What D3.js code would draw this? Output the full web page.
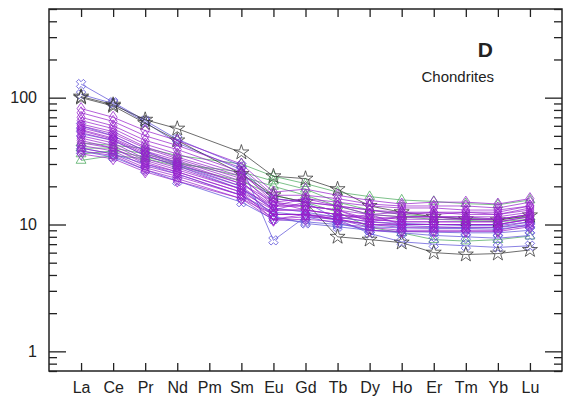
<!DOCTYPE html>
<html>
<head>
<meta charset="utf-8">
<script src="https://cdn.jsdelivr.net/npm/d3@7"></script>
<style>
  body { margin: 0; background: #fff; }
  svg { display: block; }
  text { font-family: "Liberation Sans", Arial, sans-serif; fill: #222; }
</style>
</head>
<body>
<svg id="chart" width="577" height="398"></svg>
<script>
// REE elements (Pm has no data)
const elements = ["La", "Ce", "Pr", "Nd", "Pm", "Sm", "Eu", "Gd", "Tb", "Dy", "Ho", "Er", "Tm", "Yb", "Lu"];
const yMajorTicks = [1, 10, 100];
const yMinorTicks = [0.7, 0.8, 0.9, 2, 3, 4, 5, 6, 7, 8, 9, 20, 30, 40, 50, 60, 70, 80, 90, 200, 300, 400, 500];

// chondrite-normalised values, one row per sample, null at Pm
const starSamples = [
  [102, 88, 67, 57, null, 37, 24, 23, 19, 14, 12.5, 11.5, 11, 10.8, 11.8],
  [100, 86, 63, 46, null, 25, 17, 15, 8.0, 7.6, 7.2, 6.0, 5.8, 5.9, 6.3]
];
const crossSamples = [
  [128, 92, 66, 47, null, 29, 7.5, 11.5, 10.2, 9.0, 8.6, 8.2, 8.0, 7.8, 8.2],
  [106, 90, 64, 44, null, 27, 16, 15, 11, 8.5, 7.3, 7.0, 6.8, 6.6, 6.8],
  [60, 50, 38, 30, null, 20, 11.6, 10.2, 9.6, 9.0, 8.8, 8.7, 8.6, 8.6, 9.0],
  [40, 36, 30, 25, null, 17, 12.5, 11.8, 10.8, 10.0, 9.8, 9.6, 9.4, 9.5, 10.0],
  [38, 34, 27, 22, null, 15, 11.0, 10.5, 10.0, 9.6, 9.4, 9.3, 9.3, 9.2, 9.8],
  [52, 46, 35, 29, null, 19, 13.5, 12.5, 11.4, 10.5, 10.2, 10.0, 9.8, 9.8, 10.5]
];
const triangleSamples = [
  [44, 42, 40, 35, null, 30, 24, 21, 18, 16.6, 15.6, 15.2, 14.6, 14.3, 15.6],
  [32, 35, 33, 29, null, 22, 17, 15, 12.5, 9.5, 8.6, 7.6, 7.4, 7.6, 8.1],
  [40, 40, 36, 31, null, 24, 20, 17, 14, 12, 11.5, 11, 10.8, 10.5, 11],
  [36, 38, 34, 30, null, 26, 22, 19, 15, 13, 12, 11.5, 11.2, 11, 11.5]
];
const diamondSamples = [
  [82, 70, 55, 46, null, 30, 18, 19, 17, 15.5, 14.5, 15.0, 15.0, 14.5, 16.0],
  [76, 65, 50, 42, null, 28, 17, 17, 16, 14.5, 14.0, 14.0, 14.0, 13.5, 15.0],
  [70, 60, 46, 39, null, 26, 15, 16, 14, 12.0, 12.5, 12.5, 12.5, 12.5, 14.0],
  [66, 57, 43, 36, null, 25, 16, 15, 14, 13.0, 12.0, 12.5, 12.0, 12.0, 13.5],
  [62, 54, 41, 34, null, 24, 14, 16, 15, 14.0, 13.5, 13.5, 13.0, 13.0, 14.0],
  [60, 52, 40, 33, null, 23, 15, 14, 13, 12.0, 11.5, 11.5, 11.5, 11.5, 12.5],
  [58, 50, 38, 32, null, 22, 13, 15, 14, 13.0, 12.5, 12.0, 12.5, 12.0, 13.0],
  [56, 48, 37, 31, null, 21, 14, 14, 13, 11.0, 11.5, 11.5, 11.0, 11.0, 12.0],
  [55, 47, 36, 30, null, 21, 15, 13, 12, 11.5, 11.0, 11.0, 11.0, 11.0, 12.0],
  [53, 46, 35, 29, null, 20, 13, 13, 12, 11.0, 10.5, 10.5, 10.5, 10.5, 11.5],
  [50, 44, 33, 28, null, 19, 12, 12, 11, 12.0, 10.0, 10.0, 10.0, 10.0, 11.0],
  [48, 42, 32, 27, null, 19, 14, 14, 13, 10.5, 11.5, 11.5, 11.5, 11.0, 12.0],
  [46, 40, 31, 26, null, 18, 11, 12, 11, 10.0, 9.5, 9.5, 9.5, 9.5, 10.5],
  [44, 40, 30, 26, null, 18, 13, 13, 12, 11.0, 10.5, 10.5, 10.5, 10.5, 11.5],
  [42, 38, 29, 25, null, 17, 12, 12, 11, 10.0, 10.0, 10.0, 10.0, 10.0, 11.0],
  [40, 36, 28, 24, null, 17, 11, 11.5, 11, 9.5, 9.0, 9.0, 9.0, 9.0, 10.0],
  [38, 35, 27, 23, null, 16, 12, 12, 11.5, 10.5, 10.0, 10.0, 10.0, 10.0, 11.0],
  [36, 33, 26, 22, null, 16, 10.8, 11, 10.5, 9.0, 8.8, 8.8, 8.8, 8.8, 9.6]
];

const width = 577, height = 398;
const margin = { top: 9, right: 15, bottom: 27, left: 49 };

const svg = d3.select("#chart");

const x = d3.scalePoint()
  .domain(elements)
  .range([margin.left, width - margin.right])
  .padding(1);

const y = d3.scaleLog()
  .domain([0.7, 500])
  .range([height - margin.bottom, margin.top]);

// axes: all ticks point inwards
const tickLen = 8, majorLen = 17;

svg.append("g")
  .attr("transform", "translate(0," + (height - margin.bottom) + ")")
  .call(d3.axisBottom(x).tickSize(-tickLen).tickPadding(tickLen + 6))
  .call(g => g.select(".domain").remove())
  .call(g => g.selectAll("text").attr("font-size", 16).attr("dy", "0.71em").attr("y", 11));

svg.append("g")
  .attr("transform", "translate(0," + margin.top + ")")
  .call(d3.axisTop(x).tickSize(-tickLen).tickFormat(""))
  .call(g => g.select(".domain").remove());

const yAxes = [
  { pos: margin.left, gen: d3.axisLeft },
  { pos: width - margin.right, gen: d3.axisRight }
];
yAxes.forEach(a => {
  svg.append("g")
    .attr("transform", "translate(" + a.pos + ",0)")
    .call(a.gen(y).tickValues(yMinorTicks).tickSize(-tickLen).tickFormat(""))
    .call(g => g.select(".domain").remove());
  svg.append("g")
    .attr("transform", "translate(" + a.pos + ",0)")
    .call(a.gen(y).tickValues(yMajorTicks).tickSize(-majorLen).tickFormat(""))
    .call(g => g.select(".domain").remove());
});

svg.append("g")
  .selectAll("text")
  .data(yMajorTicks)
  .join("text")
  .attr("x", margin.left - 12)
  .attr("y", d => y(d))
  .attr("dy", "0.36em")
  .attr("text-anchor", "end")
  .attr("font-size", 16)
  .text(d => d);

svg.selectAll(".tick line").attr("stroke", "#222").attr("stroke-width", 1.3);

// series
const line = d3.line()
  .x(d => x(d.el))
  .y(d => y(d.v));

const diamond = "M0,-6L4,0L0,6L-4,0Z";
// drawing order: green, blue, black, purple on top
const groups = [
  { rows: triangleSamples, color: "#4aa85c", shape: d3.symbol().type(d3.symbolTriangle).size(42)(), rot: 0 },
  { rows: crossSamples, color: "#5a4fd8", shape: d3.symbol().type(d3.symbolCross).size(55)(), rot: 45 },
  { rows: starSamples, color: "#333333", shape: d3.symbol().type(d3.symbolStar).size(70)(), rot: 0 },
  { rows: diamondSamples, color: "#9620cc", shape: diamond, rot: 0 }
];

const plot = svg.append("g");
groups.forEach(grp => {
  grp.rows.forEach(row => {
    const pts = elements
      .map((el, i) => ({ el: el, v: row[i] }))
      .filter(d => d.v != null);
    const s = plot.append("g");
    s.append("path")
      .datum(pts)
      .attr("fill", "none")
      .attr("stroke", grp.color)
      .attr("stroke-width", 0.8)
      .attr("stroke-opacity", 0.9)
      .attr("d", line);
    s.selectAll("path.m")
      .data(pts)
      .join("path")
      .attr("class", "m")
      .attr("d", grp.shape)
      .attr("transform", d => "translate(" + x(d.el) + "," + y(d.v) + ") rotate(" + grp.rot + ")")
      .attr("fill", "none")
      .attr("stroke", grp.color)
      .attr("stroke-width", 0.9)
      .attr("stroke-opacity", 0.85);
  });
});

// frame
svg.append("rect")
  .attr("x", margin.left)
  .attr("y", margin.top)
  .attr("width", width - margin.left - margin.right)
  .attr("height", height - margin.top - margin.bottom)
  .attr("fill", "none")
  .attr("stroke", "#222")
  .attr("stroke-width", 1.5);

svg.append("text")
  .attr("x", 493)
  .attr("y", 57)
  .attr("text-anchor", "end")
  .attr("font-size", 21)
  .attr("font-weight", "bold")
  .text("D");

svg.append("text")
  .attr("x", 494)
  .attr("y", 82)
  .attr("text-anchor", "end")
  .attr("font-size", 15)
  .text("Chondrites");
</script>
</body>
</html>
